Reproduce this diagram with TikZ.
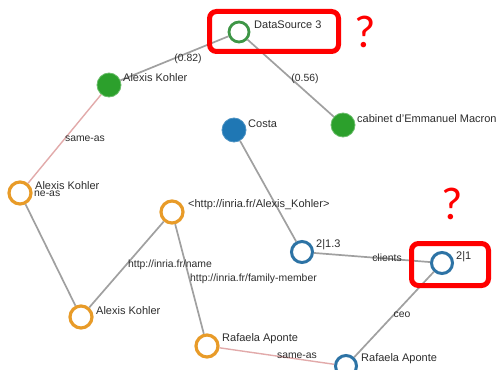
\documentclass[tikz,border=0pt]{standalone}
\usepackage{fontspec}
\setmainfont{Liberation Sans}
\newfontfamily\qfont{Carlito}
\definecolor{gedge}{RGB}{160,160,160}
\definecolor{pedge}{RGB}{226,170,170}
\definecolor{ngreen}{RGB}{44,160,44}
\definecolor{nblue}{RGB}{31,119,180}
\definecolor{norange}{RGB}{232,155,40}
\definecolor{ndgreen}{RGB}{62,150,70}
\definecolor{nsteel}{RGB}{45,115,165}
\definecolor{txt}{RGB}{45,45,45}
\tikzset{
  x=1pt,y=-1pt,
  solidgreen/.style={circle,fill=ngreen,draw=ngreen!70!white,line width=0.8pt,minimum size=24pt,inner sep=0pt},
  solidblue/.style={circle,fill=nblue,draw=nblue!80!white,line width=0.8pt,minimum size=24pt,inner sep=0pt},
  ringorange/.style={circle,fill=white,draw=norange,line width=3.2pt,minimum size=22pt,inner sep=0pt},
  ringgreen/.style={circle,fill=white,draw=ndgreen,line width=2.8pt,minimum size=20pt,inner sep=0pt},
  ringblue/.style={circle,fill=white,draw=nsteel,line width=3pt,minimum size=21pt,inner sep=0pt},
  lab/.style={anchor=west,inner sep=0pt,text=txt,font=\fontsize{11}{12}\selectfont},
  elab/.style={inner sep=0pt,text=txt,font=\fontsize{10.4}{11}\selectfont},
  grayedge/.style={draw=gedge,line width=1.7pt},
  pinkedge/.style={draw=pedge,line width=1.4pt},
  alert/.style={draw=red,line width=5pt,rounded corners=7pt},
  qmark/.style={text=red,inner sep=0pt,font=\qfont\fontsize{46}{46}\selectfont}
}
\begin{document}
\begin{tikzpicture}
\useasboundingbox (0,0) rectangle (500,369);
\clip (0,0) rectangle (500,369);
\fill[white] (0,0) rectangle (500,369);
\coordinate (boxa1) at (209.5,11.5);
\coordinate (boxa2) at (338.5,51.5);
\coordinate (boxb1) at (411.5,243.5);
\coordinate (boxb2) at (488.5,285.5);
\node[ringgreen] (ds) at (239,32) {};
\node[solidgreen] (ak1) at (109,85) {};
\node[solidblue] (costa) at (234,130) {};
\node[solidgreen] (macron) at (343,125) {};
\node[ringorange] (ak2) at (20,193) {};
\node[ringorange] (uri) at (172,212) {};
\node[ringorange] (ak3) at (81,317) {};
\node[ringorange] (raf1) at (207,346) {};
\node[ringblue] (n13) at (302,252) {};
\node[ringblue] (n1) at (442,263) {};
\node[ringblue] (raf2) at (346,366) {};
\draw[grayedge] (ds) -- (ak1);
\draw[grayedge] (ds) -- (macron);
\draw[pinkedge] (ak1) -- (ak2);
\draw[grayedge] (ak2) -- (ak3);
\draw[grayedge] (uri) -- (ak3);
\draw[grayedge] (uri) -- (raf1);
\draw[grayedge] (costa) -- (n13);
\draw[grayedge] (n13) -- (n1);
\draw[grayedge] (n1) -- (raf2);
\draw[pinkedge] (raf1) -- (raf2);
\node[lab] at (254,25) {DataSource 3};
\node[lab] at (123,78) {Alexis Kohler};
\node[lab] at (248,124) {Costa};
\node[lab] at (357,118.5) {cabinet d'Emmanuel Macron};
\node[lab] at (35,186) {Alexis Kohler};
\node[lab] at (188,205) {<http://inria.fr/Alexis\_Kohler>};
\node[lab] at (96,311) {Alexis Kohler};
\node[lab] at (222,339) {Rafaela Aponte};
\node[lab] at (316,245) {2|1.3};
\node[lab] at (456,257) {2|1};
\node[lab] at (361,359) {Rafaela Aponte};
\node[elab] at (188,59) {(0.82)};
\node[elab] at (305,79) {(0.56)};
\node[elab] at (85,139) {same-as};
\node[elab,anchor=west] at (34,194) {ne-as};
\node[elab] at (170,265) {http://inria.fr/name};
\node[elab,anchor=west] at (190,279) {http://inria.fr/family-member};
\node[elab] at (387,258) {clients};
\node[elab] at (402,315) {ceo};
\node[elab] at (297,356) {same-as};
\draw[alert] (boxa1) rectangle (boxa2);
\draw[alert] (boxb1) rectangle (boxb2);
\node[qmark] at (365,32) {?};
\node[qmark] at (452,204) {?};
\end{tikzpicture}
\end{document}
